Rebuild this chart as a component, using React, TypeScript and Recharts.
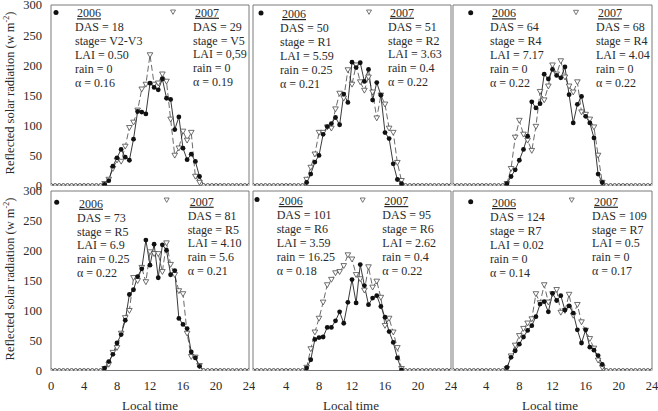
import React from 'react';
import { LineChart, Line, XAxis, YAxis } from 'recharts';

// Half-hourly sampling times over the day (local time, h)
const HOURS = [
  0, 0.5, 1, 1.5, 2, 2.5, 3, 3.5, 4, 4.5, 5, 5.5, 6, 6.5, 7, 7.5, 8, 8.5, 9, 9.5, 10, 10.5, 11, 11.5,
  12, 12.5, 13, 13.5, 14, 14.5, 15, 15.5, 16, 16.5, 17, 17.5, 18, 18.5, 19, 19.5, 20, 20.5, 21, 21.5,
  22, 22.5, 23, 23.5, 24,
];

// Reflected solar radiation (W m-2), one array per panel and season
const p1y2006 = [0,0,0,0,0,0,0,0,0,0,0,0,0, 2,8,32,46,60,47,42,77,123,122,119,170,163,159,177,145,143,93,114,62,43,52,40,15, 0,0,0,0,0,0,0,0,0,0,0,0];
const p1y2007 = [0,0,0,0,0,0,0,0,0,0,0,0,0, 3,10,28,42,40,65,96,105,125,160,168,217,168,170,185,173,110,50,62,90,75,88,15,5, 0,0,0,0,0,0,0,0,0,0,0,0];
const p2y2006 = [0,0,0,0,0,0,0,0,0,0,0,0,0, 5,19,39,50,85,98,103,113,101,152,138,205,196,204,173,193,142,171,150,88,78,36,10,3, 0,0,0,0,0,0,0,0,0,0,0,0];
const p2y2007 = [0,0,0,0,0,0,0,0,0,0,0,0,0, 10,30,52,88,88,97,95,127,153,145,192,168,200,172,158,180,155,112,150,135,95,88,38,8, 0,0,0,0,0,0,0,0,0,0,0,0];
const p3y2006 = [0,0,0,0,0,0,0,0,0,0,0,0,0, 3,15,26,42,60,82,139,129,136,185,177,193,183,179,197,151,104,135,148,115,104,79,19,5, 0,0,0,0,0,0,0,0,0,0,0,0];
const p3y2007 = [0,0,0,0,0,0,0,0,0,0,0,0,0, 3,28,80,108,85,75,58,98,156,142,165,200,185,207,180,165,155,172,122,118,110,97,50,5, 0,0,0,0,0,0,0,0,0,0,0,0];
const p4y2006 = [0,0,0,0,0,0,0,0,0,0,0,0,0, 4,15,27,46,60,84,127,135,157,170,218,176,211,155,210,201,160,167,87,77,70,31,21,7, 0,0,0,0,0,0,0,0,0,0,0,0];
const p4y2007 = [0,0,0,0,0,0,0,0,0,0,0,0,0, 3,10,30,38,62,88,100,155,150,172,148,198,195,195,165,213,177,160,133,128,62,23,22,8, 0,0,0,0,0,0,0,0,0,0,0,0];
const p5y2006 = [0,0,0,0,0,0,0,0,0,0,0,0,0, 4,18,52,55,56,72,72,83,98,79,114,152,113,177,142,110,121,125,107,89,65,47,21,1, 0,0,0,0,0,0,0,0,0,0,0,0];
const p5y2007 = [0,0,0,0,0,0,0,0,0,0,0,0,0, 5,36,64,87,114,143,152,163,165,175,193,186,160,153,134,173,139,149,122,75,87,64,38,3, 0,0,0,0,0,0,0,0,0,0,0,0];
const p6y2006 = [0,0,0,0,0,0,0,0,0,0,0,0,0, 5,22,33,44,56,67,75,90,111,115,98,129,117,125,101,108,96,68,46,68,39,34,25,10, 0,0,0,0,0,0,0,0,0,0,0,0];
const p6y2007 = [0,0,0,0,0,0,0,0,0,0,0,0,0, 3,24,42,58,70,79,86,128,113,143,114,128,135,97,100,127,92,110,81,67,53,37,17,5, 0,0,0,0,0,0,0,0,0,0,0,0];

// Per-panel site/crop notes
const notes2006 = [
  ['DAS = 18', 'stage= V2-V3', 'LAI = 0.50', 'rain = 0', 'α = 0.16'],
  ['DAS = 50', 'stage = R1', 'LAI = 5.59', 'rain = 0.25', 'α = 0.21'],
  ['DAS = 64', 'stage = R4', 'LAI = 7.17', 'rain = 0', 'α = 0.22'],
  ['DAS = 73', 'stage = R5', 'LAI = 6.9', 'rain = 0.25', 'α = 0.22'],
  ['DAS = 101', 'stage = R6', 'LAI = 3.59', 'rain = 16.25', 'α = 0.18'],
  ['DAS = 124', 'stage = R7', 'LAI = 0.02', 'rain = 0', 'α = 0.14'],
];
const notes2007 = [
  ['DAS = 29', 'stage = V5', 'LAI = 0,59', 'rain = 0', 'α = 0.19'],
  ['DAS = 51', 'stage = R2', 'LAI = 3.63', 'rain = 0.4', 'α = 0.22'],
  ['DAS = 68', 'stage = R4', 'LAI = 4.04', 'rain = 0', 'α = 0.22'],
  ['DAS = 81', 'stage = R5', 'LAI = 4.10', 'rain = 5.6', 'α = 0.21'],
  ['DAS = 95', 'stage = R6', 'LAI = 2.62', 'rain = 0.4', 'α = 0.22'],
  ['DAS = 109', 'stage = R7', 'LAI = 0.5', 'rain = 0', 'α = 0.17'],
];

const Y_TICKS = [0, 50, 100, 150, 200, 250, 300];
const X_TICKS_FIRST = [0, 4, 8, 12, 16, 20, 24];
const X_TICKS_REST = [4, 8, 12, 16, 20, 24];
const X_MINOR = [5, 10, 15, 20];

const FONT = "'Liberation Serif', 'Times New Roman', serif";
const FRAME = '#7a7a7a';
const INK = '#2a2a2a';

type Geo = { left: number; top: number; w: number; h: number };

const GEO: Geo[] = [
  { left: 51, top: 4.5, w: 198, h: 180.5 },
  { left: 253, top: 4.5, w: 198, h: 180.5 },
  { left: 453, top: 4.5, w: 199, h: 180.5 },
  { left: 51, top: 190.5, w: 198, h: 179.5 },
  { left: 253, top: 190.5, w: 198, h: 179.5 },
  { left: 453, top: 190.5, w: 199, h: 179.5 },
];

const SERIES = [
  [p1y2006, p1y2007],
  [p2y2006, p2y2007],
  [p3y2006, p3y2007],
  [p4y2006, p4y2007],
  [p5y2006, p5y2007],
  [p6y2006, p6y2007],
];

// Note block anchors: [bulletX, bulletY, textX, baseline] for 2006 and 2007
const NOTE_POS = [
  { a: [56, 12.6, 75, 17.3], b: [173, 12, 193, 16.7] },
  { a: [261, 13, 280, 18], b: [369, 12, 388, 16.7] },
  { a: [470.7, 12.7, 490, 17.3], b: [576, 12.3, 596, 17.3] },
  { a: [56.7, 202.3, 77, 207.7], b: [166.7, 200, 187.7, 205.7] },
  { a: [257, 199.5, 276.7, 205], b: [362.7, 200, 382.3, 205] },
  { a: [470.7, 201.7, 490, 207], b: [571.7, 200, 592, 205.7] },
];

const valueOf = (p: any, key: string) =>
  typeof p.value === 'number' ? p.value : p.payload ? p.payload[key] : null;

const dot2006 = (p: any) => {
  const { cx, cy, index } = p;
  if (cx == null || cy == null) return <g key={`a${index}`} />;
  if (valueOf(p, 'a') === 0) {
    return <circle key={`a${index}`} cx={cx} cy={cy} r={1.9} fill="#fff" stroke="#3a3a3a" strokeWidth={0.9} />;
  }
  return <circle key={`a${index}`} cx={cx} cy={cy} r={2.4} fill="#111" />;
};

const dot2007 = (p: any) => {
  const { cx, cy, index } = p;
  if (cx == null || cy == null || valueOf(p, 'b') === 0) return <g key={`b${index}`} />;
  return (
    <path
      key={`b${index}`}
      d={`M${cx - 2.8},${cy - 2.2}L${cx + 2.8},${cy - 2.2}L${cx},${cy + 2.7}Z`}
      fill="#fff"
      stroke="#4a4a4a"
      strokeWidth={0.8}
    />
  );
};

const tickStyle = { fill: INK, fontSize: 12.5, fontFamily: FONT };

// Outer sizes of the axis bands that take space around each plot
const Y_BAND = 40;
const X_BAND = 20;
const TOP_BAND = 1;

function Panel({ idx }: { idx: number }) {
  const g = GEO[idx];
  const [s06, s07] = SERIES[idx];
  const col = idx % 3;
  const bottomRow = idx >= 3;
  const mL = 45, mR = 6, mT = 8, mB = 24;
  const data = HOURS.map((t, i) => ({ t, a: s06[i], b: s07[i] }));
  return (
    <div style={{ position: 'absolute', left: g.left - mL, top: g.top - mT }}>
      <LineChart
        width={g.w + mL + mR}
        height={g.h + mT + mB}
        data={data}
        margin={{ top: mT - TOP_BAND, right: mR, bottom: mB - X_BAND, left: mL - Y_BAND }}
      >
        <XAxis
          xAxisId="b"
          dataKey="t"
          type="number"
          domain={[0, 24]}
          allowDataOverflow
          height={X_BAND}
          ticks={col === 0 ? X_TICKS_FIRST : X_TICKS_REST}
          interval={0}
          tick={bottomRow ? tickStyle : false}
          tickLine={false}
          tickSize={6}
          tickMargin={4.5}
          axisLine={{ stroke: FRAME, strokeWidth: 1 }}
        />
        <XAxis
          xAxisId="bi"
          dataKey="t"
          type="number"
          domain={[0, 24]}
          allowDataOverflow
          height={2}
          mirror
          ticks={bottomRow ? [] : X_MINOR}
          interval={0}
          tick={false}
          tickSize={3}
          tickLine={{ stroke: FRAME }}
          axisLine={false}
        />
        <XAxis
          xAxisId="t"
          orientation="top"
          dataKey="t"
          type="number"
          domain={[0, 24]}
          allowDataOverflow
          height={TOP_BAND}
          ticks={[0, 24]}
          tick={false}
          tickLine={false}
          axisLine={{ stroke: FRAME, strokeWidth: 1 }}
        />
        <YAxis
          yAxisId="l"
          type="number"
          domain={[0, 300]}
          allowDataOverflow
          width={Y_BAND}
          ticks={Y_TICKS}
          interval={0}
          tick={col === 0 ? tickStyle : false}
          tickLine={false}
          tickSize={6}
          tickMargin={3}
          axisLine={{ stroke: FRAME, strokeWidth: 1 }}
        />
        <YAxis
          yAxisId="li"
          type="number"
          domain={[0, 300]}
          allowDataOverflow
          width={2}
          mirror
          ticks={Y_TICKS}
          interval={0}
          tick={false}
          tickSize={3}
          tickLine={{ stroke: FRAME }}
          axisLine={false}
        />
        <YAxis
          yAxisId="r"
          orientation="right"
          type="number"
          domain={[0, 300]}
          allowDataOverflow
          width={2}
          mirror
          ticks={Y_TICKS}
          interval={0}
          tick={false}
          tickSize={3}
          tickLine={{ stroke: FRAME }}
          axisLine={{ stroke: FRAME, strokeWidth: 1 }}
        />
        <Line
          xAxisId="b"
          yAxisId="l"
          dataKey="b"
          type="linear"
          stroke="#444"
          strokeWidth={0.8}
          strokeDasharray="6 3"
          dot={dot2007}
          activeDot={false}
          isAnimationActive={false}
        />
        <Line
          xAxisId="b"
          yAxisId="l"
          dataKey="a"
          type="linear"
          stroke="#222"
          strokeWidth={0.9}
          dot={dot2006}
          activeDot={false}
          isAnimationActive={false}
        />
      </LineChart>
    </div>
  );
}

function NoteBlock({ pos, title, lines, marker }: { pos: number[]; title: string; lines: string[]; marker: 'dot' | 'tri' }) {
  const [bx, by, tx, base] = pos;
  return (
    <g>
      {marker === 'dot' ? (
        <circle cx={bx} cy={by} r={2.5} fill="#111" />
      ) : (
        <path d={`M${bx - 2.5},${by - 2}L${bx + 2.5},${by - 2}L${bx},${by + 2.4}Z`} fill="#fff" stroke="#555" strokeWidth={0.8} />
      )}
      <text x={tx + 2} y={base} style={{ textDecoration: 'underline' }}>{title}</text>
      {lines.map((s, i) => (
        <text key={i} x={tx} y={base + 13.9 * (i + 1)}>{s}</text>
      ))}
    </g>
  );
}

function YTitle({ cy }: { cy: number }) {
  return (
    <text transform={`translate(13.5, ${cy}) rotate(-90)`} textAnchor="middle" fontSize={12.5}>
      Reflected solar radiation (w m
      <tspan fontSize={8} dy={-4.5}>-2</tspan>
      <tspan dy={4.5}>)</tspan>
    </text>
  );
}

export default function App() {
  return (
    <div
      style={{
        position: 'absolute',
        left: 0,
        top: 0,
        width: 658,
        height: 411,
        overflow: 'hidden',
        background: '#fff',
        fontFamily: FONT,
      }}
    >
      {GEO.map((_, i) => (
        <Panel key={i} idx={i} />
      ))}
      <svg
        width={658}
        height={411}
        style={{ position: 'absolute', left: 0, top: 0, pointerEvents: 'none' }}
        fontFamily={FONT}
        fontSize={12}
        fill={INK}
      >
        {NOTE_POS.map((p, i) => (
          <g key={i}>
            <NoteBlock pos={p.a} title="2006" lines={notes2006[i]} marker="dot" />
            <NoteBlock pos={p.b} title="2007" lines={notes2007[i]} marker="tri" />
          </g>
        ))}
        <YTitle cy={93} />
        <YTitle cy={279} />
        <text x={150} y={409.5} textAnchor="middle" fontSize={13}>Local time</text>
        <text x={351} y={409.5} textAnchor="middle" fontSize={13}>Local time</text>
        <text x={550} y={409.5} textAnchor="middle" fontSize={13}>Local time</text>
      </svg>
    </div>
  );
}
